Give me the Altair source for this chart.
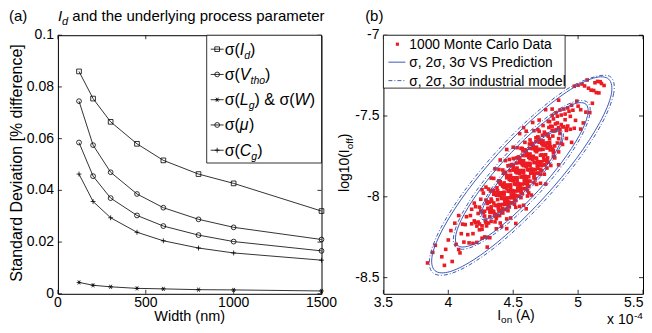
import altair as alt
import pandas as pd

FONT = "Liberation Sans"
RED = "#ec1c24"
BLUE = "#3d5ab8"

# ---------------- panel (a) data ----------------
width_nm = [120, 200, 300, 450, 600, 800, 1000, 1500]
sd_Id = [0.0860, 0.0755, 0.0665, 0.0580, 0.0516, 0.0463, 0.0427, 0.0320]
sd_Vtho = [0.0745, 0.0575, 0.0470, 0.0386, 0.0333, 0.0288, 0.0257, 0.0210]
sd_LgW = [0.0044, 0.0033, 0.0027, 0.0021, 0.0019, 0.0016, 0.0015, 0.0011]
sd_mu = [0.0585, 0.0455, 0.0370, 0.0303, 0.0262, 0.0227, 0.0202, 0.0166]
sd_Cg = [0.0463, 0.0357, 0.0294, 0.0238, 0.0205, 0.0177, 0.0158, 0.0130]
a_series = ["Id", "Vtho", "LgW", "mu", "Cg"]
a_xticks = [0, 500, 1000, 1500]
a_xlabels = ["0", "500", "1000", "1500"]
a_yticks = [0, 0.02, 0.04, 0.06, 0.08, 0.1]
a_ylabels = ["0", "0.02", "0.04", "0.06", "0.08", "0.1"]

# ---------------- panel (b) data ----------------
b_xticks = [3.5, 4, 4.5, 5, 5.5]
b_xlabels = ["3.5", "4", "4.5", "5", "5.5"]
b_yticks = [-8.5, -8, -7.5, -7]
b_ylabels = ["-8.5", "-8", "-7.5", "-7"]

# contour points read along each ellipse (x in units of 1e-4 A, y = log10(Ioff))
S1_x = [4.865, 4.872, 4.831, 4.751, 4.642, 4.522, 4.408, 4.319, 4.267, 4.260, 4.301, 4.381, 4.490, 4.610, 4.724, 4.813]
S1_y = [-7.600, -7.642, -7.717, -7.815, -7.920, -8.017, -8.090, -8.130, -8.128, -8.086, -8.011, -7.913, -7.808, -7.711, -7.638, -7.598]
S2_x = [5.061, 5.073, 5.008, 4.875, 4.695, 4.496, 4.308, 4.158, 4.071, 4.059, 4.124, 4.257, 4.437, 4.636, 4.824, 4.974]
S2_y = [-7.427, -7.497, -7.623, -7.785, -7.960, -8.120, -8.241, -8.304, -8.301, -8.231, -8.105, -7.943, -7.768, -7.608, -7.487, -7.424]
S3_x = [5.236, 5.255, 5.167, 4.989, 4.746, 4.476, 4.219, 4.016, 3.896, 3.877, 3.965, 4.143, 4.386, 4.656, 4.913, 5.116]
S3_y = [-7.272, -7.369, -7.540, -7.761, -7.997, -8.214, -8.377, -8.462, -8.456, -8.359, -8.188, -7.967, -7.731, -7.514, -7.351, -7.266]
D1_x = [4.875, 4.885, 4.846, 4.765, 4.653, 4.528, 4.409, 4.314, 4.257, 4.247, 4.286, 4.367, 4.479, 4.604, 4.723, 4.818]
D1_y = [-7.591, -7.636, -7.717, -7.819, -7.929, -8.028, -8.103, -8.141, -8.137, -8.092, -8.011, -7.909, -7.799, -7.700, -7.625, -7.587]
D2_x = [5.074, 5.090, 5.027, 4.893, 4.710, 4.504, 4.308, 4.152, 4.058, 4.042, 4.105, 4.239, 4.422, 4.628, 4.824, 4.980]
D2_y = [-7.416, -7.491, -7.622, -7.791, -7.970, -8.134, -8.256, -8.319, -8.312, -8.237, -8.106, -7.937, -7.758, -7.594, -7.472, -7.409]
D3_x = [5.252, 5.274, 5.188, 5.008, 4.760, 4.483, 4.218, 4.007, 3.880, 3.858, 3.944, 4.124, 4.372, 4.649, 4.914, 5.125]
D3_y = [-7.259, -7.360, -7.538, -7.765, -8.008, -8.229, -8.394, -8.478, -8.469, -8.368, -8.190, -7.963, -7.720, -7.499, -7.334, -7.258]

# Monte Carlo samples: dense core
mc_core_x = [
    4.23, 4.26, 4.25, 4.24, 4.27, 4.26,
    4.28, 4.30, 4.32, 4.29, 4.31, 4.28, 4.32, 4.30, 4.29, 4.31,
    4.37, 4.33, 4.35, 4.34, 4.36, 4.37, 4.33, 4.35, 4.33, 4.36, 4.35, 4.34, 4.37, 4.36, 4.33, 4.35,
    4.42, 4.39, 4.41, 4.38, 4.42, 4.40, 4.39, 4.41, 4.42, 4.38, 4.40, 4.39, 4.41, 4.42, 4.38, 4.40, 4.38, 4.41, 4.40, 4.39,
    4.47, 4.46, 4.43, 4.45, 4.47, 4.44, 4.46, 4.43, 4.47, 4.45, 4.44, 4.46, 4.47, 4.43, 4.45, 4.44, 4.46, 4.47, 4.43, 4.45, 4.43, 4.46,
    4.50, 4.49, 4.52, 4.51, 4.48, 4.50, 4.52, 4.49, 4.51, 4.48, 4.52, 4.50, 4.49, 4.51, 4.52, 4.48, 4.50, 4.49, 4.51, 4.52, 4.48, 4.50, 4.48, 4.51,
    4.57, 4.55, 4.54, 4.56, 4.57, 4.53, 4.55, 4.54, 4.56, 4.57, 4.53, 4.55, 4.53, 4.56, 4.55, 4.54, 4.57, 4.56, 4.53, 4.55, 4.57, 4.54, 4.56, 4.53,
    4.58, 4.60, 4.62, 4.59, 4.61, 4.58, 4.62, 4.60, 4.59, 4.61, 4.62, 4.58, 4.60, 4.59, 4.61, 4.62, 4.58, 4.60, 4.58, 4.61, 4.60, 4.59, 4.62, 4.61,
    4.67, 4.63, 4.65, 4.64, 4.66, 4.67, 4.63, 4.65, 4.63, 4.66, 4.65, 4.64, 4.67, 4.66, 4.63, 4.65, 4.67, 4.64, 4.66, 4.63, 4.67, 4.65,
    4.69, 4.72, 4.71, 4.68, 4.70, 4.72, 4.69, 4.71, 4.68, 4.72, 4.70, 4.69, 4.71, 4.72, 4.68, 4.70, 4.69, 4.71, 4.72, 4.68,
    4.76, 4.73, 4.77, 4.75, 4.74, 4.76, 4.77, 4.73, 4.75, 4.74, 4.76, 4.77, 4.73, 4.75, 4.73, 4.76,
    4.78, 4.81, 4.80, 4.79, 4.82, 4.81, 4.78, 4.80, 4.82, 4.79, 4.81, 4.78,
    4.84, 4.86, 4.87, 4.83, 4.85, 4.84, 4.86, 4.87,
    4.89, 4.91, 4.90, 4.92,
    4.21, 4.19, 4.22, 4.20,
]
mc_core_y = [
    -8.156, -8.179, -8.087, -8.168, -8.098, -8.201,
    -8.119, -8.041, -8.123, -8.020, -8.162, -8.089, -8.093, -8.031, -8.160, -8.072,
    -8.134, -8.014, -8.092, -7.963, -8.053, -7.984, -8.152, -8.038, -8.062, -8.119, -7.960, -8.089, -7.990, -8.155, -8.074, -7.984,
    -8.047, -7.901, -8.096, -7.990, -8.007, -7.919, -8.088, -7.976, -8.100, -7.963, -8.052, -7.908, -8.010, -7.934, -8.116, -7.992, -8.017, -8.083, -7.906, -8.048,
    -7.892, -8.086, -7.985, -7.882, -8.006, -7.848, -8.057, -7.942, -7.963, -7.868, -8.047, -7.930, -8.063, -7.914, -8.010, -7.855, -7.965, -7.885, -8.077, -7.946, -7.971, -8.043,
    -7.805, -7.961, -7.846, -8.046, -7.941, -7.835, -7.964, -7.800, -8.017, -7.897, -7.920, -7.820, -8.006, -7.885, -8.023, -7.867, -7.967, -7.807, -7.921, -7.839, -8.037, -7.901, -7.926, -8.002,
    -7.876, -7.774, -7.963, -7.840, -7.981, -7.822, -7.924, -7.760, -7.878, -7.793, -7.995, -7.856, -7.882, -7.960, -7.759, -7.918, -7.801, -8.005, -7.897, -7.789, -7.921, -7.753, -7.975, -7.852,
    -7.852, -7.745, -7.876, -7.709, -7.929, -7.807, -7.831, -7.730, -7.918, -7.795, -7.935, -7.777, -7.879, -7.716, -7.832, -7.749, -7.949, -7.812, -7.837, -7.914, -7.715, -7.873, -7.756, -7.959,
    -7.889, -7.735, -7.834, -7.675, -7.788, -7.706, -7.903, -7.768, -7.793, -7.869, -7.673, -7.828, -7.714, -7.912, -7.808, -7.702, -7.830, -7.668, -7.883, -7.764, -7.787, -7.688,
    -7.782, -7.671, -7.861, -7.763, -7.662, -7.783, -7.629, -7.833, -7.721, -7.741, -7.648, -7.824, -7.708, -7.838, -7.693, -7.787, -7.636, -7.743, -7.664, -7.853,
    -7.782, -7.680, -7.696, -7.611, -7.775, -7.666, -7.786, -7.654, -7.740, -7.600, -7.698, -7.625, -7.803, -7.682, -7.706, -7.769,
    -7.664, -7.716, -7.566, -7.689, -7.593, -7.751, -7.675, -7.589, -7.685, -7.563, -7.728, -7.641,
    -7.667, -7.585, -7.668, -7.584, -7.640, -7.543, -7.608, -7.553,
    -7.567, -7.589, -7.523, -7.562,
    -8.160, -8.228, -8.181, -8.149,
]
# Monte Carlo samples: more of the dense core (filling between the first set)
mc_core2_x = [
    4.305, 4.285, 4.315, 4.295, 4.325,
    4.325, 4.355, 4.365, 4.335, 4.345, 4.375, 4.355, 4.325,
    4.405, 4.385, 4.415, 4.395, 4.425, 4.375, 4.405, 4.415, 4.385, 4.395,
    4.445, 4.475, 4.425, 4.455, 4.465, 4.435, 4.445, 4.475, 4.455, 4.425, 4.455, 4.435,
    4.505, 4.515, 4.485, 4.495, 4.525, 4.505, 4.475, 4.505, 4.485, 4.515, 4.495, 4.525, 4.475,
    4.565, 4.545, 4.575, 4.525, 4.555, 4.565, 4.535, 4.545, 4.575, 4.555, 4.525, 4.555, 4.535,
    4.595, 4.625, 4.605, 4.575, 4.605, 4.585, 4.615, 4.595, 4.625, 4.575, 4.605, 4.615, 4.585,
    4.675, 4.625, 4.655, 4.665, 4.635, 4.645, 4.675, 4.655, 4.625, 4.655, 4.635, 4.665,
    4.715, 4.685, 4.695, 4.725, 4.705, 4.675, 4.705, 4.685, 4.715, 4.695,
    4.735, 4.765, 4.745, 4.775, 4.725, 4.755, 4.765, 4.735,
    4.825, 4.805, 4.775, 4.805, 4.785,
]
mc_core2_y = [
    -8.072, -8.149, -8.033, -8.180, -8.074,
    -8.096, -7.974, -8.109, -8.027, -8.090, -7.944, -8.106, -7.964,
    -7.975, -8.072, -7.926, -8.116, -7.983, -8.054, -7.922, -8.072, -7.978, -8.049,
    -8.078, -7.938, -8.010, -7.871, -8.032, -7.930, -8.007, -7.838, -8.027, -7.854, -7.927, -8.030,
    -7.823, -7.991, -7.885, -7.964, -7.791, -7.985, -7.805, -7.882, -7.988, -7.829, -8.037, -7.894, -7.967,
    -7.783, -7.996, -7.849, -7.924, -7.777, -7.948, -7.840, -7.921, -7.744, -7.942, -7.759, -7.837, -7.945,
    -7.875, -7.700, -7.897, -7.715, -7.793, -7.899, -7.739, -7.950, -7.804, -7.878, -7.733, -7.903, -7.795,
    -7.760, -7.834, -7.691, -7.857, -7.752, -7.831, -7.658, -7.852, -7.673, -7.749, -7.854, -7.697,
    -7.808, -7.710, -7.784, -7.619, -7.803, -7.635, -7.706, -7.807, -7.655, -7.853,
    -7.759, -7.617, -7.802, -7.672, -7.742, -7.613, -7.759, -7.669,
    -7.549, -7.704, -7.571, -7.624, -7.710,
]
# Monte Carlo samples: outer, sparser region
mc_outer_x = [
    4.06, 4.08, 4.10, 4.12, 4.13, 4.15, 4.16, 4.17, 4.18, 4.19, 4.21, 4.22, 4.23, 4.24, 4.25,
    4.26, 4.27, 4.28, 4.29, 4.30, 4.31, 4.32, 4.33, 4.11, 4.14, 4.09, 4.20, 4.26, 4.18, 4.24,
    4.35, 4.37, 4.39, 4.41, 4.42, 4.44, 4.45, 4.47, 4.48, 4.50, 4.52, 4.53, 4.55, 4.56, 4.58,
    4.59, 4.61, 4.63, 4.64, 4.66, 4.68, 4.69, 4.71, 4.73, 4.74, 4.40, 4.46, 4.57, 4.62, 4.70,
    4.78, 4.79, 4.81, 4.82, 4.84, 4.85, 4.87, 4.88, 4.90, 4.91, 4.93, 4.94, 4.96, 4.98, 5.00,
    5.02, 4.83, 4.86, 4.89, 4.92, 4.80, 4.95, 4.97, 4.99, 4.76, 4.77, 4.88, 4.91, 4.85, 4.94,
    5.05, 5.08, 5.10, 5.12, 5.14, 5.16, 5.18, 5.06, 5.09, 5.03, 5.00, 4.97, 5.11, 5.13, 5.04,
    5.15, 5.20, 5.07, 4.95, 5.02,
    4.40, 4.45, 4.50, 4.55, 4.60, 4.65, 4.70, 4.75, 4.80, 4.85, 4.36, 4.58,
    4.45, 4.60, 4.75, 4.30, 4.85, 4.52,
    3.98, 4.00, 4.02, 3.95, 4.05, 4.08, 3.97, 4.03,
    3.84, 3.88, 5.17, 3.90,
]
mc_outer_y = [
    -8.294, -8.326, -8.228, -8.280, -8.172, -8.234, -8.285, -8.116, -8.167, -8.288, -8.061, -8.282, -8.103, -8.204, -8.015,
    -8.256, -7.977, -8.248, -7.940, -8.251, -7.952, -8.253, -7.884, -8.169, -8.123, -8.347, -8.039, -7.956, -8.077, -8.064,
    -7.886, -8.198, -7.831, -8.183, -7.834, -7.776, -8.137, -7.769, -8.131, -7.763, -8.065, -7.696, -8.059, -7.700, -8.052,
    -7.663, -7.995, -7.648, -7.989, -7.591, -7.923, -7.584, -7.916, -7.559, -7.860, -8.162, -7.808, -7.701, -7.976, -7.595,
    -7.535, -7.806, -7.518, -7.759, -7.501, -7.722, -7.494, -7.676, -7.488, -7.639, -7.471, -7.582, -7.464, -7.527, -7.439,
    -7.461, -7.480, -7.463, -7.457, -7.450, -7.497, -7.433, -7.576, -7.408, -7.822, -7.533, -7.566, -7.579, -7.572, -7.502,
    -7.314, -7.328, -7.340, -7.342, -7.355, -7.357, -7.299, -7.476, -7.479, -7.302, -7.309, -7.316, -7.421, -7.294, -7.543,
    -7.286, -7.311, -7.277, -7.663, -7.581,
    -7.772, -7.707, -7.693, -7.609, -7.594, -7.540, -7.525, -7.461, -7.457, -7.402, -7.827, -7.572,
    -8.197, -8.074, -7.921, -8.311, -7.802, -8.165,
    -8.325, -8.267, -8.209, -8.371, -8.163, -8.116, -8.424, -8.400,
    -8.409, -8.344, -7.288, -8.300,
]

# ---------------- layout constants ----------------
WA, HA = 264, 259
WB, HB = 260, 259
GAP = 62
TICK = 4

CW = {" ": 278, "(": 333, ")": 333, "&": 667, ",": 278, ".": 278, "-": 333,
      "A": 667, "C": 722, "D": 722, "I": 278, "L": 556, "M": 833, "P": 667, "S": 667,
      "V": 667, "W": 944, "a": 556, "c": 500, "d": 556, "e": 556, "f": 278, "g": 556,
      "h": 556, "i": 222, "l": 222, "m": 833, "n": 556, "o": 556, "p": 556, "r": 333,
      "s": 500, "t": 278, "u": 556, "y": 500, "x": 500, "σ": 617, "μ": 576}


def text_w(s, size):
    return sum(CW.get(c, 556) for c in s) * size / 1000.0


def build(x0, y0, parts, fs, sfs, sdy, vertical=False):
    out = {"n": [], "i": []}
    pos = 0.0
    for txt, st in parts:
        sub = st.startswith("s")
        size = sfs if sub else fs
        style = st[-1]
        stripped = txt.lstrip(" ")
        pos += text_w(txt[: len(txt) - len(stripped)], size)
        if vertical:
            row = {"x": x0 + (sdy if sub else 0), "y": y0 - pos, "t": stripped, "fs": size}
        else:
            row = {"x": x0 + pos, "y": y0 + (sdy if sub else 0), "t": stripped, "fs": size}
        out[style].append(row)
        pos += text_w(stripped, size)
    return out


def merge(*groups):
    res = {"n": [], "i": []}
    for g in groups:
        for k in res:
            res[k].extend(g.get(k, []))
    return res


def text_layers(groups, angle=0, align="left", baseline="alphabetic"):
    layers = []
    for style in ("n", "i"):
        rows = groups.get(style, [])
        if not rows:
            continue
        layers.append(
            alt.Chart(pd.DataFrame(rows)).mark_text(
                align=align, baseline=baseline, font=FONT,
                fontStyle="italic" if style == "i" else "normal",
                color="black", angle=angle,
            ).encode(
                x=alt.X("x:Q", scale=None, axis=None),
                y=alt.Y("y:Q", scale=None, axis=None),
                text=alt.Text("t:N"),
                size=alt.Size("fs:Q", scale=None, legend=None),
            )
        )
    return layers


def frame(xt, xl, yt, yl, xs, ys, W, H, last_right=False):
    """inward ticks on all four sides plus tick labels on bottom and left"""
    dfx = pd.DataFrame({"t": xt, "lab": xl})
    dfy = pd.DataFrame({"t": yt, "lab": yl})
    bx = alt.Chart(dfx).mark_rule(color="black", strokeWidth=0.8)
    by = alt.Chart(dfy).mark_rule(color="black", strokeWidth=0.8)
    layers = [
        bx.encode(x=alt.X("t:Q", scale=xs, axis=None), y=alt.value(H), y2=alt.value(H - TICK)),
        bx.encode(x=alt.X("t:Q", scale=xs, axis=None), y=alt.value(0), y2=alt.value(TICK)),
        by.encode(y=alt.Y("t:Q", scale=ys, axis=None), x=alt.value(0), x2=alt.value(TICK)),
        by.encode(y=alt.Y("t:Q", scale=ys, axis=None), x=alt.value(W), x2=alt.value(W - TICK)),
        alt.Chart(dfy).mark_text(align="right", baseline="middle", font=FONT, fontSize=14, color="black").encode(
            y=alt.Y("t:Q", scale=ys, axis=None), x=alt.value(-4), text="lab:N"),
    ]
    inner = dfx.iloc[:-1] if last_right else dfx
    layers.append(
        alt.Chart(inner).mark_text(align="center", baseline="top", font=FONT, fontSize=14, color="black").encode(
            x=alt.X("t:Q", scale=xs, axis=None), y=alt.value(H + 2), text="lab:N"))
    if last_right:
        # the right-most label ends at the right edge of the window
        layers.append(
            alt.Chart(dfx.iloc[-1:]).mark_text(align="right", baseline="top", font=FONT, fontSize=14,
                                               color="black", dx=0.5).encode(
                x=alt.X("t:Q", scale=xs, axis=None), y=alt.value(H + 2), text="lab:N"))
    return layers


one = pd.DataFrame({"k": [0]})

# ================= panel (a) =================
rows = []
for s, vals in zip(a_series, [sd_Id, sd_Vtho, sd_LgW, sd_mu, sd_Cg]):
    for w, v in zip(width_nm, vals):
        rows.append({"w": w, "v": v, "s": s})
df_a = pd.DataFrame(rows)

ASTER = "M-1,0L1,0M-0.5,-0.866L0.5,0.866M-0.5,0.866L0.5,-0.866"
PLUS = "M-1,0L1,0M0,-1L0,1"
shape_sc = alt.Scale(domain=a_series, range=["square", "circle", ASTER, "circle", PLUS])
size_sc = alt.Scale(domain=a_series, range=[22, 24, 32, 24, 40])
sw_sc = alt.Scale(domain=a_series, range=[0.8, 0.8, 0.8, 1.6, 0.8])
xa = alt.Scale(domain=[0, 1500], nice=False, zero=False)
ya = alt.Scale(domain=[0, 0.1], nice=False)

lines_a = alt.Chart(df_a).mark_line(color="black").encode(
    x=alt.X("w:Q", scale=xa, axis=None),
    y=alt.Y("v:Q", scale=ya, axis=None),
    detail="s:N",
    strokeWidth=alt.StrokeWidth("s:N", scale=sw_sc, legend=None),
)
pts_a = alt.Chart(df_a).mark_point(filled=False, color="black", strokeWidth=0.8, opacity=1).encode(
    x=alt.X("w:Q", scale=xa, axis=None),
    y=alt.Y("v:Q", scale=ya, axis=None),
    shape=alt.Shape("s:N", scale=shape_sc, legend=None),
    size=alt.Size("s:N", scale=size_sc, legend=None),
)

leg_a_y = [14, 39.3, 64.6, 89.9, 115.2]
df_leg_a = pd.DataFrame({"s": a_series, "ly": leg_a_y})
box_a = alt.Chart(one).mark_rect(fill="white", stroke="black", strokeWidth=0.8).encode(
    x=alt.value(149), x2=alt.value(WA), y=alt.value(0), y2=alt.value(128))
leg_lines_a = alt.Chart(df_leg_a).mark_rule(color="black").encode(
    y=alt.Y("ly:Q", scale=None, axis=None), x=alt.value(153), x2=alt.value(166),
    strokeWidth=alt.StrokeWidth("s:N", scale=sw_sc, legend=None))
leg_pts_a = alt.Chart(df_leg_a).mark_point(filled=False, color="black", strokeWidth=0.8, opacity=1).encode(
    x=alt.value(159.5), y=alt.Y("ly:Q", scale=None, axis=None),
    shape=alt.Shape("s:N", scale=shape_sc, legend=None),
    size=alt.Size("s:N", scale=size_sc, legend=None))

LFS, LSFS, LSDY, LX = 16, 10.5, 4, 167
leg_parts = [
    [("σ(", "n"), ("I", "i"), ("d", "si"), (")", "n")],
    [("σ(", "n"), ("V", "i"), ("tho", "si"), (")", "n")],
    [("σ(", "n"), ("L", "i"), ("g", "si"), (") & σ(", "n"), ("W", "i"), (")", "n")],
    [("σ(", "n"), ("μ", "i"), (")", "n")],
    [("σ(", "n"), ("C", "i"), ("g", "si"), (")", "n")],
]
texts_a = merge(
    {"n": [{"x": -49, "y": -14, "t": "(a)", "fs": 15}]},
    build(0, -14, [("I", "i"), ("d", "si"), (" and the underlying process parameter", "n")], 15, 11, 4),
    {"n": [{"x": 132 - text_w("Width (nm)", 14.5) / 2, "y": 286, "t": "Width (nm)", "fs": 14.5}]},
    *[build(LX, ly + 5.5, p, LFS, LSFS, LSDY) for ly, p in zip(leg_a_y, leg_parts)],
)
ytitle_a = text_layers({"n": [{"x": -41, "y": 128, "t": "Standard Deviation [% difference]", "fs": 16}]},
                       angle=270, align="center", baseline="middle")

panel_a = alt.layer(
    lines_a, pts_a, *frame(a_xticks, a_xlabels, a_yticks, a_ylabels, xa, ya, WA, HA),
    box_a, leg_lines_a, leg_pts_a, *text_layers(texts_a), *ytitle_a,
).properties(width=WA, height=HA)

# ================= panel (b) =================
xb = alt.Scale(domain=[3.5, 5.5], nice=False, zero=False)
yb = alt.Scale(domain=[-8.6, -7], nice=False, zero=False)

df_mc = pd.DataFrame({"x": mc_core_x + mc_core2_x + mc_outer_x,
                      "y": mc_core_y + mc_core2_y + mc_outer_y})
scatter = alt.Chart(df_mc).mark_square(size=13, color=RED, opacity=1).encode(
    x=alt.X("x:Q", scale=xb, axis=None),
    y=alt.Y("y:Q", scale=yb, axis=None),
)

ell_rows = []
for name, xs, ys, kind in [("S1", S1_x, S1_y, "vs"), ("S2", S2_x, S2_y, "vs"), ("S3", S3_x, S3_y, "vs"),
                           ("D1", D1_x, D1_y, "ind"), ("D2", D2_x, D2_y, "ind"), ("D3", D3_x, D3_y, "ind")]:
    for k, (ex, ey) in enumerate(zip(xs, ys)):
        ell_rows.append({"ex": ex, "ey": ey, "e": name, "k": k, "kind": kind})
df_ell = pd.DataFrame(ell_rows)

ell_vs = alt.Chart(df_ell[df_ell.kind == "vs"]).mark_line(
    color=BLUE, strokeWidth=1, interpolate="cardinal-closed").encode(
    x=alt.X("ex:Q", scale=xb, axis=None), y=alt.Y("ey:Q", scale=yb, axis=None),
    detail="e:N", order=alt.Order("k:Q"))
ell_ind = alt.Chart(df_ell[df_ell.kind == "ind"]).mark_line(
    color=BLUE, strokeWidth=1, strokeDash=[4, 2, 1, 2], interpolate="cardinal-closed").encode(
    x=alt.X("ex:Q", scale=xb, axis=None), y=alt.Y("ey:Q", scale=yb, axis=None),
    detail="e:N", order=alt.Order("k:Q"))

box_b = alt.Chart(one).mark_rect(fill="white", stroke="black", strokeWidth=0.8).encode(
    x=alt.value(0), x2=alt.value(182), y=alt.value(0), y2=alt.value(53))
leg_dot = alt.Chart(one).mark_square(size=10, color=RED, opacity=1).encode(x=alt.value(14), y=alt.value(9))
leg_vs = alt.Chart(one).mark_rule(color=BLUE, strokeWidth=1).encode(
    x=alt.value(5), x2=alt.value(22), y=alt.value(27))
leg_ind = alt.Chart(one).mark_rule(color=BLUE, strokeWidth=1, strokeDash=[4, 2, 1, 2]).encode(
    x=alt.value(5), x2=alt.value(22), y=alt.value(45.5))

BFS = 13.8
XT = 224
xten_w = text_w("x 10", 14)
texts_b = merge(
    {"n": [{"x": -18.3, "y": -14, "t": "(b)", "fs": 15},
           {"x": 26, "y": 14, "t": "1000 Monte Carlo Data", "fs": BFS},
           {"x": 26, "y": 32, "t": "σ, 2σ, 3σ VS Prediction", "fs": BFS},
           {"x": 26, "y": 50.5, "t": "σ, 2σ, 3σ industrial model", "fs": BFS},
           {"x": XT, "y": 289, "t": "x 10", "fs": 14},
           {"x": XT + xten_w + 0.5, "y": 284, "t": "-4", "fs": 10}]},
    build(114, 285, [("I", "n"), ("on", "sn"), (" (A)", "n")], 14, 10, 3),
)
ytitle_b = build(-34, 157, [("log10(I", "n"), ("off", "sn"), (")", "n")], 14, 10, 4, vertical=True)

panel_b = alt.layer(
    scatter, ell_vs, ell_ind, *frame(b_xticks, b_xlabels, b_yticks, b_ylabels, xb, yb, WB, HB, last_right=True),
    box_b, leg_dot, leg_vs, leg_ind, *text_layers(texts_b), *text_layers(ytitle_b, angle=270),
).properties(width=WB, height=HB)

chart = alt.hconcat(panel_a, panel_b, spacing=GAP, bounds="flush").properties(
    padding={"left": 0, "top": 0, "right": 0, "bottom": -2}, background="white"
).configure_view(stroke="black", strokeWidth=1)

chart.save("out.html", embed_options={"renderer": "svg", "actions": False})
